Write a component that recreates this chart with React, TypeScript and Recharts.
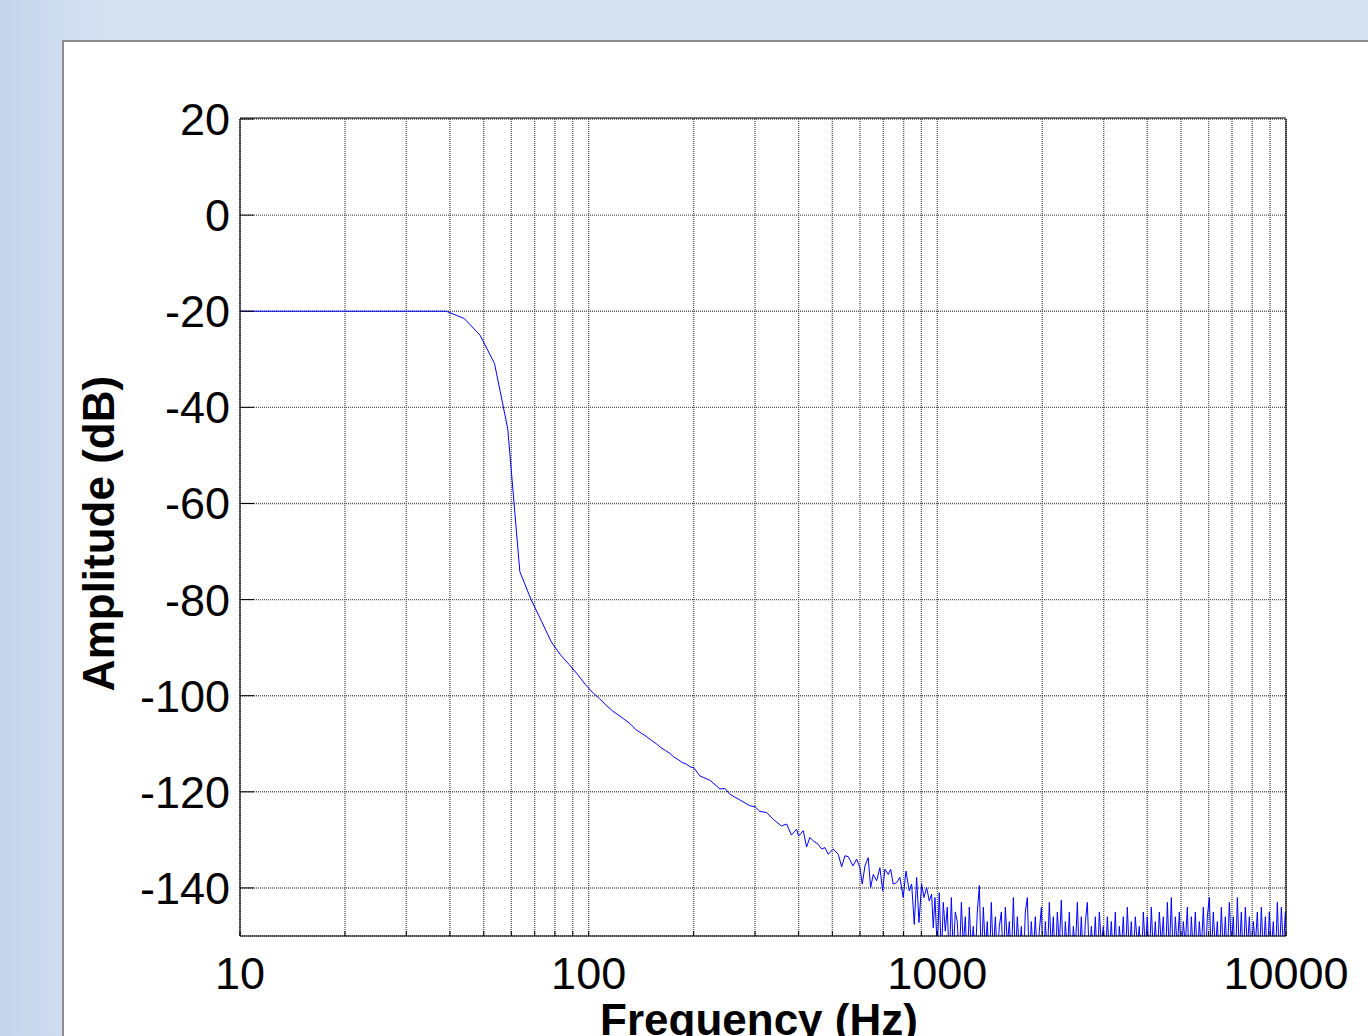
import React from 'react'
import { LineChart, Line, XAxis, YAxis, CartesianGrid } from 'recharts'

// passband + roll-off, read at the FFT bin spacing (~4.88 Hz)
const rolloffFreq = [
  9.77, 14.65, 19.53, 24.41, 29.3, 34.18, 39.06, 43.95, 48.83, 53.71, 58.59, 63.48, 68.36, 73.24,
  78.13, 83.01, 87.89, 92.77, 97.66, 102.5, 107.4, 112.3, 117.2, 122.1, 127, 131.8, 136.7, 141.6,
  146.5, 151.4, 156.3, 161.1, 166, 170.9, 175.8, 180.7, 185.5, 190.4, 195.3, 200.2,
]
const rolloffDb = [
  -20, -20, -20, -20, -20, -20, -20, -21.5, -25, -30.9, -44.4, -74.2, -80, -84.5,
  -88.8, -91.5, -93.5, -95.5, -97.6, -99.3, -100.6, -102, -103.2, -104.1, -105, -105.9, -107.1, -107.8,
  -108.5, -109.3, -110, -110.8, -111.4, -112, -112.8, -113.3, -113.9, -114.2, -114.8, -115,
]

// slope from 200 Hz into the noise floor
const slopeFreq = [
  208.5, 213.2, 222.8, 238, 245.9, 254, 271.6, 290, 300, 310, 324, 338, 357, 369.7, 381.6, 394.7,
  400, 412.6, 421.7, 431, 440.7, 455, 465.9, 476.2, 486.6, 502.6, 519.7, 531.6, 543.3, 555.3,
  572.9, 586.9, 600, 609, 620.1, 633.4, 643.8, 655, 669.9, 684.5, 696.8, 707.4, 723.1, 734.7,
  747.3, 764.3, 780.8, 798.3, 812.8, 830.7, 844, 858.7, 872.3, 885.7, 901.6, 915.4, 931.8, 948,
  963, 973.4, 984.3,
]
const slopeDb = [
  -116.7, -117, -117.6, -119.4, -119.3, -120.5, -121.7, -122.9, -123.1, -124.1, -124.3, -125.7, -127.1, -126.7, -129, -127.8,
  -129.2, -128.1, -131.5, -129.5, -130.2, -130.9, -131.9, -131.6, -133, -131.9, -133, -135.6, -133.3, -133.5,
  -135.4, -134, -135.8, -139.2, -135.4, -133.7, -139.9, -137.2, -138.5, -135.8, -140.6, -136.1, -137.2, -136.1,
  -139.2, -138.9, -137.8, -142, -136.5, -140.6, -139.2, -147.6, -137.8, -147.2, -139.2, -142, -139.9, -142.7,
  -141.3, -148.3, -142,
]

// noise floor 1 kHz .. 10 kHz
const noiseFreq = [
  1000, 1013, 1027, 1040, 1054, 1068, 1082, 1097, 1111, 1126, 1141, 1156, 1172, 1187, 1203, 1219,
  1235, 1252, 1268, 1285, 1302, 1320, 1337, 1355, 1373, 1391, 1410, 1428, 1447, 1467, 1486, 1506,
  1526, 1546, 1567, 1588, 1609, 1630, 1652, 1674, 1696, 1719, 1742, 1765, 1788, 1812, 1836, 1860,
  1885, 1910, 1936, 1961, 1988, 2014, 2041, 2068, 2095, 2123, 2151, 2180, 2209, 2238, 2268, 2298,
  2329, 2360, 2391, 2423, 2455, 2488, 2521, 2554, 2588, 2623, 2658, 2693, 2729, 2765, 2802, 2839,
  2877, 2915, 2954, 2993, 3033, 3073, 3114, 3155, 3197, 3240, 3283, 3326, 3371, 3415, 3461, 3507,
  3553, 3600, 3648, 3697, 3747, 3796, 3847, 3898, 3950, 4002, 4055, 4109, 4164, 4219, 4276, 4332,
  4390, 4448, 4507, 4568, 4628, 4690, 4752, 4815, 4879, 4944, 5010, 5076, 5144, 5212, 5281, 5352,
  5423, 5495, 5568, 5642, 5717, 5793, 5870, 5948, 6027, 6107, 6188, 6270, 6355, 6439, 6525, 6611,
  6699, 6789, 6879, 6970, 7063, 7157, 7252, 7348, 7446, 7545, 7645, 7747, 7850, 7954, 8060, 8167,
  8276, 8386, 8497, 8610, 8725, 8841, 8958, 9077, 9198, 9320, 9445, 9570, 9698, 9827, 9958, 10000,
]
const noiseDb = [
  -153, -141, -155, -143, -149, -144, -156, -142, -154, -145, -147, -156, -143, -152, -146, -157,
  -144, -153, -148, -155, -145, -139.5, -156, -144, -153, -147, -157, -143, -154, -146, -155, -148,
  -145, -157, -144, -152, -147, -156, -142, -155, -146, -153, -148, -157, -145, -142, -156, -147,
  -154, -146, -155, -149, -144, -157, -147, -155, -143, -153, -146, -156, -145, -152, -142.5, -156,
  -147, -154, -145, -157, -148, -153, -143, -155, -146, -156, -147, -143, -155, -148, -154, -146,
  -157, -145, -152, -148, -156, -146, -154, -147, -155, -145, -157, -148, -153, -146, -156, -144,
  -154, -147, -155, -146, -152, -148, -157, -145, -153, -146, -156, -144, -154, -147, -155, -145,
  -152, -146, -157, -143, -154, -142, -156, -146, -153, -145, -155, -147, -152, -144, -157, -146,
  -154, -145, -155, -147, -153, -144, -156, -146, -142, -155, -145, -153, -147, -156, -144, -154,
  -146, -155, -143, -152, -146, -157, -142, -154, -145, -156, -144, -153, -146, -155, -147, -152,
  -145, -156, -144, -154, -146, -155, -145, -153, -147, -156, -143, -155, -144, -153, -145, -148,
]

const xTicks = [
  10, 20, 30, 40, 50, 60, 70, 80, 90,
  100, 200, 300, 400, 500, 600, 700, 800, 900,
  1000, 2000, 3000, 4000, 5000, 6000, 7000, 8000, 9000, 10000,
]
const xLabels = [10, 100, 1000, 10000]
const yTicks = [-140, -120, -100, -80, -60, -40, -20, 0, 20]

const freqHz = [...rolloffFreq, ...slopeFreq, ...noiseFreq]
const ampDb = [...rolloffDb, ...slopeDb, ...noiseDb]
const data = freqHz.map((f, i) => ({ f, db: ampDb[i] }))

const font = "'Liberation Sans', Arial, sans-serif"
const tickFont = { fill: '#000', fontSize: 45, fontFamily: font }
const black = { stroke: '#000', strokeWidth: 1 }

export default function App() {
  return (
    <div
      style={{
        position: 'relative',
        width: 1368,
        height: 1036,
        overflow: 'hidden',
        background: 'linear-gradient(to right, #c4d5ec 0px, #d6e2f1 110px)',
      }}
    >
      <style>{'body{margin:0}'}</style>
      <div
        style={{
          position: 'absolute',
          left: 62,
          top: 40,
          width: 1340,
          height: 1020,
          background: '#fff',
          borderLeft: '2px solid #8c8c8c',
          borderTop: '2px solid #8c8c8c',
        }}
      />
      <div style={{ position: 'absolute', left: 0, top: 0 }}>
        <LineChart width={1368} height={1036} data={data} margin={{ top: 117, right: 81, bottom: 40, left: 140 }}>
          <CartesianGrid stroke="#5a5a5a" strokeWidth={1.4} strokeDasharray="1 1" />
          <CartesianGrid xAxisId="dec" horizontal={false} stroke="#333" strokeWidth={1} strokeDasharray="1 1" />
          <XAxis
            dataKey="f"
            type="number"
            scale="log"
            domain={[10, 10000]}
            allowDataOverflow
            ticks={xTicks}
            interval={0}
            tickFormatter={(v: number) => (xLabels.includes(v) ? String(v) : '')}
            tickSize={-5}
            tickMargin={26}
            height={60}
            axisLine={black}
            tickLine={black}
            tick={tickFont}
            label={{
              value: 'Frequency (Hz)',
              position: 'center',
              dx: -4,
              dy: 53,
              fontSize: 44,
              fontWeight: 'bold',
              fill: '#000',
              fontFamily: font,
            }}
          />
          <XAxis
            xAxisId="top"
            orientation="top"
            type="number"
            scale="log"
            domain={[10, 10000]}
            allowDataOverflow
            ticks={xTicks}
            interval={0}
            tickSize={-5}
            tick={false}
            height={1}
            axisLine={black}
            tickLine={black}
          />
          <XAxis
            xAxisId="dec"
            orientation="top"
            type="number"
            scale="log"
            domain={[10, 10000]}
            allowDataOverflow
            ticks={xLabels}
            interval={0}
            tick={false}
            tickLine={false}
            axisLine={false}
            height={1}
          />
          <YAxis
            type="number"
            domain={[-150, 20]}
            allowDataOverflow
            ticks={yTicks}
            interval={0}
            tickSize={-14}
            tickMargin={24}
            width={100}
            axisLine={black}
            tickLine={black}
            tick={tickFont}
            label={{
              value: 'Amplitude (dB)',
              angle: -90,
              position: 'center',
              dx: -92,
              dy: 6,
              fontSize: 44,
              fontWeight: 'bold',
              fill: '#000',
              fontFamily: font,
            }}
          />
          <YAxis
            yAxisId="right"
            orientation="right"
            type="number"
            domain={[-150, 20]}
            allowDataOverflow
            ticks={yTicks}
            interval={0}
            tickSize={-14}
            tick={false}
            width={1}
            axisLine={black}
            tickLine={black}
          />
          <Line
            type="linear"
            dataKey="db"
            stroke="#0000ff"
            strokeWidth={1}
            dot={false}
            isAnimationActive={false}
          />
        </LineChart>
      </div>
    </div>
  )
}
